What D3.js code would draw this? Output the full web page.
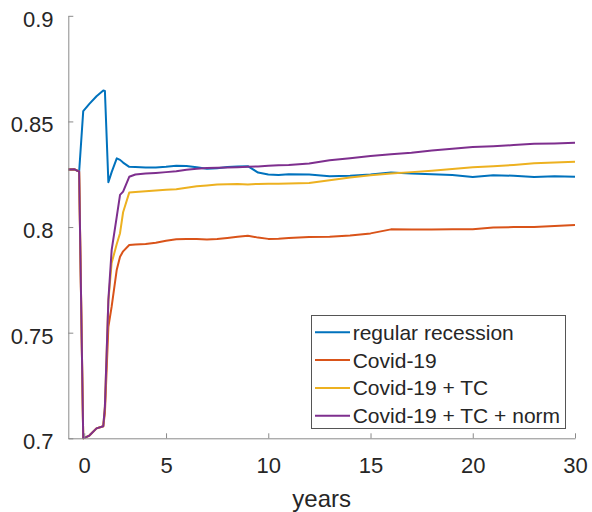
<!DOCTYPE html>
<html>
<head>
<meta charset="utf-8">
<script src="https://cdn.jsdelivr.net/npm/d3@7"></script>
<style>
  body { margin: 0; background: #fff; }
  text { font-family: "Liberation Sans", Arial, sans-serif; fill: #262626; }
</style>
</head>
<body>
<div id="chart"></div>
<script>
// time axis (axis units), tick positions and the labels shown under them
const t = [0.22, 0.5, 0.75, 0.95, 1.25, 1.6, 1.93, 2.01, 2.18, 2.34,
           2.59, 2.75, 2.9, 3.2, 3.5, 4, 4.5, 5, 5.5, 6,
           6.5, 7, 7.5, 8, 8.5, 9, 9.5, 10, 10.5, 11,
           12, 13, 14, 15, 16, 17, 18, 19, 20, 21, 22, 23, 24, 25];
const xTicks = [1, 5, 10, 15, 20, 25];
const xTickLabels = ["0", "5", "10", "15", "20", "30"];
const yTicks = [0.7, 0.75, 0.8, 0.85, 0.9];

const regular = [0.8272, 0.8274, 0.8262, 0.8549, 0.8583, 0.8619, 0.8646, 0.8644, 0.8212, 0.8260,
                 0.8325, 0.8318, 0.8305, 0.8285, 0.8284, 0.8282, 0.8282, 0.8285, 0.8290, 0.8289,
                 0.8283, 0.8276, 0.8278, 0.8284, 0.8287, 0.8288, 0.8258, 0.8249, 0.8246, 0.8250,
                 0.8249, 0.8240, 0.8243, 0.8249, 0.8258, 0.8254, 0.8250, 0.8246, 0.8237, 0.8245,
                 0.8243, 0.8237, 0.8241, 0.8238];
const covid = [0.8272, 0.8274, 0.8262, 0.7000, 0.7013, 0.7047, 0.7057, 0.7120, 0.7528, 0.7623,
               0.7798, 0.7859, 0.7885, 0.7915, 0.7917, 0.7920, 0.7926, 0.7935, 0.7942, 0.7944,
               0.7943, 0.7941, 0.7943, 0.7948, 0.7954, 0.7959, 0.7950, 0.7944, 0.7945, 0.7948,
               0.7953, 0.7954, 0.7960, 0.7970, 0.7989, 0.7988, 0.7988, 0.7989, 0.7990, 0.7998,
               0.8000, 0.8000, 0.8005, 0.8010];
const covidTC = [0.8272, 0.8274, 0.8262, 0.7000, 0.7013, 0.7047, 0.7057, 0.7150, 0.7650, 0.7830,
                 0.7920, 0.7971, 0.8070, 0.8163, 0.8166, 0.8170, 0.8173, 0.8176, 0.8179, 0.8186,
                 0.8193, 0.8197, 0.8201, 0.8203, 0.8204, 0.8202, 0.8204, 0.8205, 0.8205, 0.8206,
                 0.8208, 0.8222, 0.8234, 0.8245, 0.8253, 0.8260, 0.8267, 0.8275, 0.8283, 0.8288,
                 0.8294, 0.8302, 0.8306, 0.8309];
const covidTCnorm = [0.8272, 0.8274, 0.8262, 0.7000, 0.7013, 0.7047, 0.7057, 0.7150, 0.7655, 0.7891,
                     0.8049, 0.8152, 0.8168, 0.8238, 0.8249, 0.8253, 0.8256, 0.8260, 0.8264, 0.8271,
                     0.8276, 0.8279, 0.8281, 0.8282, 0.8283, 0.8285, 0.8287, 0.8290, 0.8292, 0.8294,
                     0.8301, 0.8316, 0.8326, 0.8336, 0.8345, 0.8352, 0.8362, 0.8371, 0.8379, 0.8383,
                     0.8388, 0.8394, 0.8396, 0.8399];

const names = ["regular recession", "Covid-19", "Covid-19 + TC", "Covid-19 + TC + norm"];
const colors = ["#0072BD", "#D95319", "#EDB120", "#7E2F8E"];
const series = [regular, covid, covidTC, covidTCnorm];

const width = 592, height = 512;
const x = d3.scaleLinear().domain([0.22, 25]).range([68.3, 575]);
const y = d3.scaleLinear().domain([0.7, 0.9]).range([438.3, 15.8]);

const svg = d3.select("#chart").append("svg")
    .attr("width", width)
    .attr("height", height);

// lines
const line = d3.line().x((d, i) => x(t[i])).y(d => y(d));
svg.append("g")
    .selectAll("path")
    .data(series)
    .join("path")
    .attr("d", line)
    .attr("fill", "none")
    .attr("stroke", (d, i) => colors[i])
    .attr("stroke-width", 2)
    .attr("stroke-linejoin", "round");

// axes
const xAxis = svg.append("g")
    .attr("transform", `translate(0,${y(0.7)})`)
    .call(d3.axisBottom(x).tickValues(xTicks)
        .tickFormat((d, i) => xTickLabels[i])
        .tickSizeInner(-5).tickSizeOuter(0).tickPadding(0));
const yAxis = svg.append("g")
    .attr("transform", `translate(${x(0.22)},0)`)
    .call(d3.axisLeft(y).tickValues(yTicks)
        .tickFormat(d => String(d))
        .tickSizeInner(-5).tickSizeOuter(0).tickPadding(0));

[xAxis, yAxis].forEach(a => {
    a.select(".domain").attr("stroke", "#8a8a8a").attr("stroke-width", 1);
    a.selectAll(".tick line").attr("stroke", "#8a8a8a");
    a.selectAll("text").attr("font-size", 22).attr("fill", "#262626")
        .attr("font-family", "Liberation Sans, Arial, sans-serif");
});
xAxis.selectAll("text").attr("y", 35).attr("dy", 0);
yAxis.selectAll("text").attr("x", -14.8).attr("dy", 0).attr("y", 10.5);

svg.append("text")
    .attr("x", (x(0.22) + x(25)) / 2)
    .attr("y", 507)
    .attr("text-anchor", "middle")
    .attr("font-size", 24)
    .text("years");

// legend
const legend = svg.append("g");
legend.append("rect")
    .attr("x", 311.5).attr("y", 315.5)
    .attr("width", 254).attr("height", 113)
    .attr("fill", "#fff")
    .attr("stroke", "#555")
    .attr("stroke-width", 1);
const rows = legend.selectAll("g.row")
    .data(names)
    .join("g")
    .attr("class", "row")
    .attr("transform", (d, i) => `translate(0,${332.3 + i * 27.8})`);
rows.append("line")
    .attr("x1", 315).attr("x2", 350)
    .attr("stroke", (d, i) => colors[i])
    .attr("stroke-width", 2);
rows.append("text")
    .attr("x", 352.7)
    .attr("y", 7.5)
    .attr("font-size", 21)
    .text(d => d);
</script>
</body>
</html>
